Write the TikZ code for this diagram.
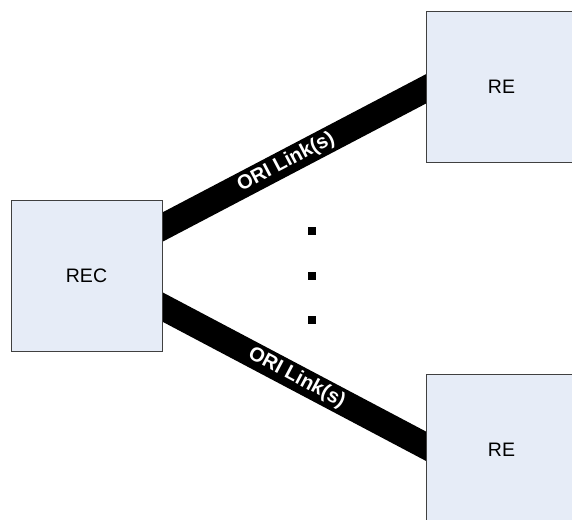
\documentclass[tikz,border=0pt]{standalone}
\usepackage{fontspec}
\setmainfont{Liberation Sans}
\usetikzlibrary{calc,backgrounds}
\definecolor{boxfill}{HTML}{E6ECF7}
\definecolor{boxline}{HTML}{404040}
\tikzset{
  unitbox/.style={draw=boxline, line width=0.9pt, fill=boxfill, minimum width=151pt, minimum height=151pt, inner sep=0pt, font=\fontsize{19.5}{19.5}\selectfont},
  orilink/.style={line width=26pt, black, line cap=butt, shorten <=-8pt, shorten >=-8pt},
  linklabel/.style={text=white, font=\fontsize{20}{20}\selectfont\bfseries, sloped, inner sep=0pt},
  dotsq/.style={fill=black, minimum size=8pt, inner sep=0pt}
}
\begin{document}
\begin{tikzpicture}[x=1pt,y=-1pt]
\useasboundingbox (0,0) rectangle (572,519);
\clip (0,0) rectangle (572,519);
\node[unitbox] (rec) at (86.5,276) {REC};
\node[unitbox] (re1) at (501.5,86.5) {RE};
\node[unitbox] (re2) at (501.5,449.5) {RE};
\begin{scope}[on background layer]
\draw[orilink] ($(rec.north east)!0.178!(rec.south east)$) -- ($(re1.north west)!0.517!(re1.south west)$)
  node[linklabel, pos=0.47] (l1) {ORI Link(s)};
\draw[orilink] ($(rec.north east)!0.704!(rec.south east)$) -- ($(re2.north west)!0.477!(re2.south west)$)
  node[linklabel, pos=0.51] (l2) {ORI Link(s)};
\end{scope}
\node[dotsq] (d1) at (312,231) {};
\node[dotsq] (d2) at (312,276) {};
\node[dotsq] (d3) at (312,320) {};
\end{tikzpicture}
\end{document}
